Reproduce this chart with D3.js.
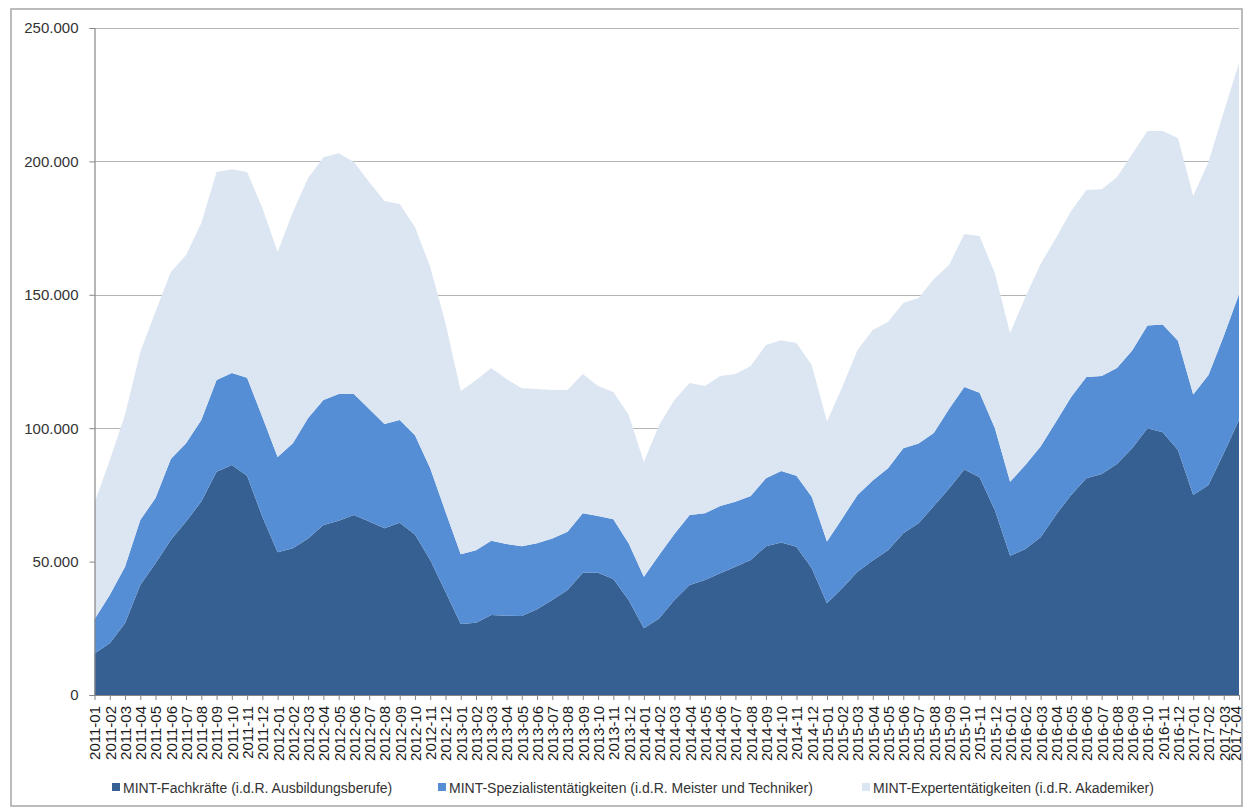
<!DOCTYPE html>
<html>
<head>
<meta charset="utf-8">
<script src="https://cdn.jsdelivr.net/npm/d3@7"></script>
<style>
  html, body { margin: 0; padding: 0; background: #fff; }
  svg { display: block; font-family: "Liberation Sans", Arial, sans-serif; }
</style>
</head>
<body>
<svg id="chart" width="1244" height="807"></svg>
<script>
const months = [
  "2011-01","2011-02","2011-03","2011-04","2011-05","2011-06","2011-07","2011-08","2011-09","2011-10","2011-11","2011-12",
  "2012-01","2012-02","2012-03","2012-04","2012-05","2012-06","2012-07","2012-08","2012-09","2012-10","2012-11","2012-12",
  "2013-01","2013-02","2013-03","2013-04","2013-05","2013-06","2013-07","2013-08","2013-09","2013-10","2013-11","2013-12",
  "2014-01","2014-02","2014-03","2014-04","2014-05","2014-06","2014-07","2014-08","2014-09","2014-10","2014-11","2014-12",
  "2015-01","2015-02","2015-03","2015-04","2015-05","2015-06","2015-07","2015-08","2015-09","2015-10","2015-11","2015-12",
  "2016-01","2016-02","2016-03","2016-04","2016-05","2016-06","2016-07","2016-08","2016-09","2016-10","2016-11","2016-12",
  "2017-01","2017-02","2017-03","2017-04"
];

const seriesNames = [
  "MINT-Fachkräfte (i.d.R. Ausbildungsberufe)",
  "MINT-Spezialistentätigkeiten (i.d.R. Meister und Techniker)",
  "MINT-Expertentätigkeiten (i.d.R. Akademiker)"
];

const fachkraefte = [
  15600,19400,26900,41200,49400,58100,65000,72500,83700,86200,82200,66800,
  53500,55000,58700,63700,65300,67500,65000,62500,64600,60200,50600,38700,
  26600,27100,30000,29700,29600,32100,35600,39400,45800,45800,43500,35600,
  25000,28700,35600,41200,43100,45600,48100,50600,55800,57200,55600,47500,
  34400,40000,46200,50400,54300,60600,64400,70800,77400,84500,81600,69300,
  52200,54700,59100,67500,75000,81200,82800,86600,92500,100000,98500,91800,
  75000,78700,90600,103100
];

const spezialisten = [
  12800,18100,21200,24400,24400,30400,29400,30600,34400,34500,36700,37400,
  35700,39400,45100,46900,47500,45300,42200,39100,38500,37200,34400,30000,
  26200,27200,27800,26900,26200,24800,23100,21800,22300,21300,22400,21300,
  19300,23800,24700,26300,25000,25200,24300,24000,25400,26800,26600,26800,
  23100,26200,28800,30000,30700,31900,29900,27400,29800,30900,31700,30800,
  27700,31500,34000,34800,36700,38000,36800,36000,36600,38500,40400,41000,
  37600,41200,44000,47100
];

const experten = [
  43600,50500,56900,63000,69900,70000,70500,73800,77900,76400,77100,78300,
  76800,86600,90000,91000,90300,87000,85100,83600,80900,78000,75400,70700,
  61100,63700,64800,61800,59200,57800,55600,53100,52200,48700,47700,48100,
  43000,48700,50300,49400,47700,48800,47900,48700,50000,49000,49700,49400,
  45000,49200,54300,56400,54800,54400,54500,57700,54000,57400,58700,58100,
  55800,63000,68400,69000,69700,70100,70000,71500,73700,72900,72500,76000,
  74400,79900,83900,86700
];

const yTicks = [0, 50000, 100000, 150000, 200000, 250000];
const colors = ["#376092", "#558ed5", "#dce6f2"];

const svg = d3.select("#chart");

// outer frame
svg.append("rect")
  .attr("x", 11).attr("y", 9).attr("width", 1231).attr("height", 797)
  .attr("fill", "#fff").attr("stroke", "#a5a5a5").attr("stroke-width", 1.5);

const plotLeft = 94.5, plotRight = 1239, plotTop = 28, plotBottom = 695;

const x = d3.scalePoint().domain(months).range([plotLeft, plotRight]);
const y = d3.scaleLinear().domain([0, 250000]).range([plotBottom, plotTop]);

const rows = months.map((m, i) => ({
  month: m,
  f: fachkraefte[i],
  s: spezialisten[i],
  e: experten[i]
}));

const stack = d3.stack().keys(["f", "s", "e"]);
const layers = stack(rows);

// gridlines
svg.append("g")
  .selectAll("line")
  .data(yTicks.filter(t => t > 0))
  .join("line")
  .attr("x1", plotLeft).attr("x2", plotRight)
  .attr("y1", d => Math.round(y(d)) + 0.5).attr("y2", d => Math.round(y(d)) + 0.5)
  .attr("stroke", "#b4b4b4").attr("stroke-width", 1.2);

// areas
const area = d3.area()
  .x((d, i) => x(months[i]))
  .y0(d => y(d[0]))
  .y1(d => y(d[1]));

svg.append("g")
  .selectAll("path")
  .data(layers)
  .join("path")
  .attr("fill", (d, i) => colors[i])
  .attr("d", area);

// y axis
const locale = d3.formatLocale({ decimal: ",", thousands: ".", grouping: [3], currency: ["", " €"] });
const fmt = locale.format(",.0f");

const yAxis = svg.append("g")
  .attr("transform", `translate(${plotLeft},0)`)
  .call(d3.axisLeft(y).tickValues(yTicks).tickFormat(fmt).tickSize(5).tickPadding(11));
yAxis.select(".domain").attr("stroke", "#868686").attr("stroke-width", 1.2);
yAxis.selectAll(".tick line").attr("stroke", "#868686");
yAxis.selectAll(".tick text")
  .attr("font-size", "15px")
  .attr("fill", "#333")
  .attr("font-family", "'Liberation Sans', Arial, sans-serif");

// x axis
const xAxis = svg.append("g")
  .attr("transform", `translate(0,${plotBottom})`)
  .call(d3.axisBottom(x).tickSize(5).tickSizeOuter(0));
xAxis.select(".domain").attr("stroke", "#868686").attr("stroke-width", 1.2);
xAxis.selectAll(".tick line").attr("stroke", "#868686");
xAxis.selectAll(".tick text")
  .attr("font-size", "15px")
  .attr("fill", "#1a1a1a")
  .attr("font-family", "'Liberation Sans', Arial, sans-serif")
  .attr("text-anchor", "end")
  .attr("transform", "rotate(-90)")
  .attr("x", -11)
  .attr("y", (d, i) => i === months.length - 1 ? -4 : 0)
  .attr("dy", "0.36em");

// legend
const legendX = [112, 438, 862];
const legend = svg.append("g");
seriesNames.forEach((name, i) => {
  const g = legend.append("g").attr("transform", `translate(${legendX[i]},783)`);
  g.append("rect").attr("x", 0).attr("y", 0).attr("width", 8).attr("height", 8).attr("fill", colors[i]);
  g.append("text")
    .attr("x", 11).attr("y", 10)
    .attr("font-size", "14px")
    .attr("fill", "#333")
    .attr("font-family", "'Liberation Sans', Arial, sans-serif")
    .text(name);
});
</script>
</body>
</html>
